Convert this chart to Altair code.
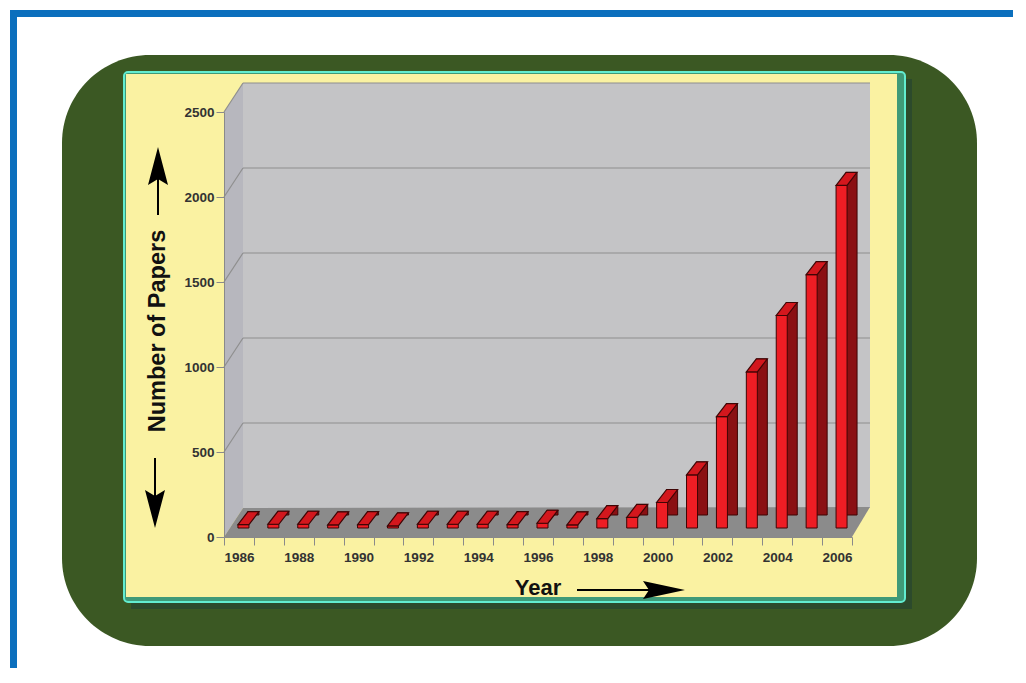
import altair as alt
import pandas as pd

# ---- data ----
years = list(range(1986, 2007))
papers = [20, 22, 22, 18, 20, 12, 22, 22, 22, 20, 28, 18, 55, 62, 150, 312,
          655, 918, 1250, 1490, 2015]
y_ticks = [0, 500, 1000, 1500, 2000, 2500]
grid_vals = [500, 1000, 1500, 2000, 2500]

df = pd.DataFrame({"year": years, "papers": papers})
grid_df = pd.DataFrame({"papers": grid_vals})
one = pd.DataFrame({"k": [0]})

W, H = 628, 425
FONT = "Liberation Sans"

xscale = alt.Scale(paddingInner=0, paddingOuter=0)
yscale = alt.Scale(domain=[0, 2500], nice=False, zero=True)

xaxis = alt.Axis(title=None, tickBand="extent", tickSize=8, tickColor="#8a8a8a", domainColor="#8a8a8a",
                 labelAngle=0, labelExpr="datum.value % 2 == 0 ? datum.label : ''",
                 labelFontSize=13.5, labelFontWeight="bold", labelColor="#333", labelFont=FONT,
                 labelPadding=5, labelOverlap=False, zindex=1, grid=False)
yaxis = alt.Axis(title=None, values=y_ticks, format="d", tickSize=8, tickColor="#8a8a8a",
                 domainColor="#8a8a8a", labelFontSize=13.5, labelFontWeight="bold", labelColor="#333",
                 labelFont=FONT, labelPadding=2, labelOverlap=False, zindex=1, grid=False)

# view origin is page (224, 112)
def rect(x1, y1, x2, y2, **kw):
    return alt.Chart(one).mark_rect(**kw).encode(
        x=alt.value(x1 - 224), x2=alt.value(x2 - 224),
        y=alt.value(y1 - 112), y2=alt.value(y2 - 112))

def shape(px, py, path, **kw):
    base = dict(shape=path, size=4, opacity=1)
    base.update(kw)
    return alt.Chart(one).mark_point(**base).encode(
        x=alt.value(px - 224), y=alt.value(py - 112))

def rule(x1, y1, x2, y2, **kw):
    return alt.Chart(one).mark_rule(**kw).encode(
        x=alt.value(x1 - 224), x2=alt.value(x2 - 224),
        y=alt.value(y1 - 112), y2=alt.value(y2 - 112))

def text(px, py, s, **kw):
    return alt.Chart(one).mark_text(text=s, font=FONT, **kw).encode(
        x=alt.value(px - 224), y=alt.value(py - 112))

BLUE = "#0b6fbd"
GREEN = "#3b5823"
YELLOW = "#faf2a2"

deco = [
    rect(10, 10, 1018, 17, color=BLUE),
    rect(10, 10, 17, 668, color=BLUE),
    rect(62, 55, 977, 646, color=GREEN, cornerRadius=88),
    rect(131, 79, 912, 609, color="#2c4a2c"),
    rect(124, 72, 905, 602, fill="#3f9a78", stroke="#62ecd0", strokeWidth=2, cornerRadius=4),
    rect(126, 74, 897, 597, color=YELLOW),
    # back wall
    rect(243, 83, 870, 508, color="#c4c4c6"),
    # side wall
    shape(224, 112, "M0 0 L19 -29 L19 396 L0 425 Z", filled=True, fill="#b7b7be", strokeWidth=0),
]

back_grid = alt.Chart(grid_df).mark_rule(color="#8e8e8e", strokeWidth=1.2, yOffset=-29, y2Offset=-29).encode(
    y=alt.Y("papers:Q", scale=yscale, axis=yaxis),
    x=alt.value(19), x2=alt.value(646))

side_grid = alt.Chart(grid_df).mark_point(shape="M0 0 L19 -29", size=4, filled=False, opacity=1,
                                          stroke="#8e8e8e", strokeWidth=1.2).encode(
    y=alt.Y("papers:Q", scale=yscale, axis=yaxis),
    x=alt.value(0))

floor = shape(224, 537, "M0 0 L628 0 L646 -30 L19 -29 Z", filled=True, fill="#8b8b8b", strokeWidth=0)

enc = dict(x=alt.X("year:O", scale=xscale, axis=xaxis),
           y=alt.Y("papers:Q", scale=yscale, axis=yaxis))

DX, DY = 4.5, -9
OUT = "#3f0505"
side = alt.Chart(df).mark_bar(size=11, color="#8a1013", stroke=OUT, strokeWidth=1,
                              xOffset=DX + 10, x2Offset=DX + 10, yOffset=DY - 13, y2Offset=DY - 5).encode(**enc)
front = alt.Chart(df).mark_bar(size=11, color="#ee1d24", stroke=OUT, strokeWidth=1,
                               xOffset=DX, x2Offset=DX, yOffset=DY, y2Offset=DY).encode(**enc)
cap = alt.Chart(df).mark_point(shape="M-5.5 0 L5.5 0 L15.5 -13 L4.5 -13 Z", size=4, filled=True, opacity=1,
                               fill="#d3171d", stroke=OUT, strokeWidth=1.2,
                               xOffset=DX, yOffset=DY).encode(**enc)

labels = [
    text(158, 331, "Number of Papers", angle=270, fontSize=23.5, fontWeight="bold", color="#111",
         align="center", baseline="middle"),
    text(538, 588, "Year", fontSize=22, fontWeight="bold", color="#111", align="center", baseline="middle"),
    # up arrow
    rule(158, 178, 158, 215, color="#000", strokeWidth=2),
    shape(158, 147, "M0 0 L-10 38 L0 32 L10 38 Z", filled=True, fill="#000", strokeWidth=0),
    # down arrow
    rule(155, 458, 155, 496, color="#000", strokeWidth=2),
    shape(155, 528, "M0 0 L-10 -38 L0 -32 L10 -38 Z", filled=True, fill="#000", strokeWidth=0),
    # right arrow
    rule(577, 590, 650, 590, color="#000", strokeWidth=2),
    shape(685, 590, "M0 0 L-42 -9 L-36 0 L-42 9 Z", filled=True, fill="#000", strokeWidth=0),
]

chart = alt.layer(*deco, back_grid, side_grid, floor, side, front, cap, *labels).properties(
    width=W, height=H,
    padding={"left": 216, "top": 104, "right": 161, "bottom": 131},
    autosize=alt.AutoSizeParams(type="none"),
    background="white",
).configure_view(stroke=None, fill=None)

chart.save("out.html", embed_options={"renderer": "svg", "actions": False})
